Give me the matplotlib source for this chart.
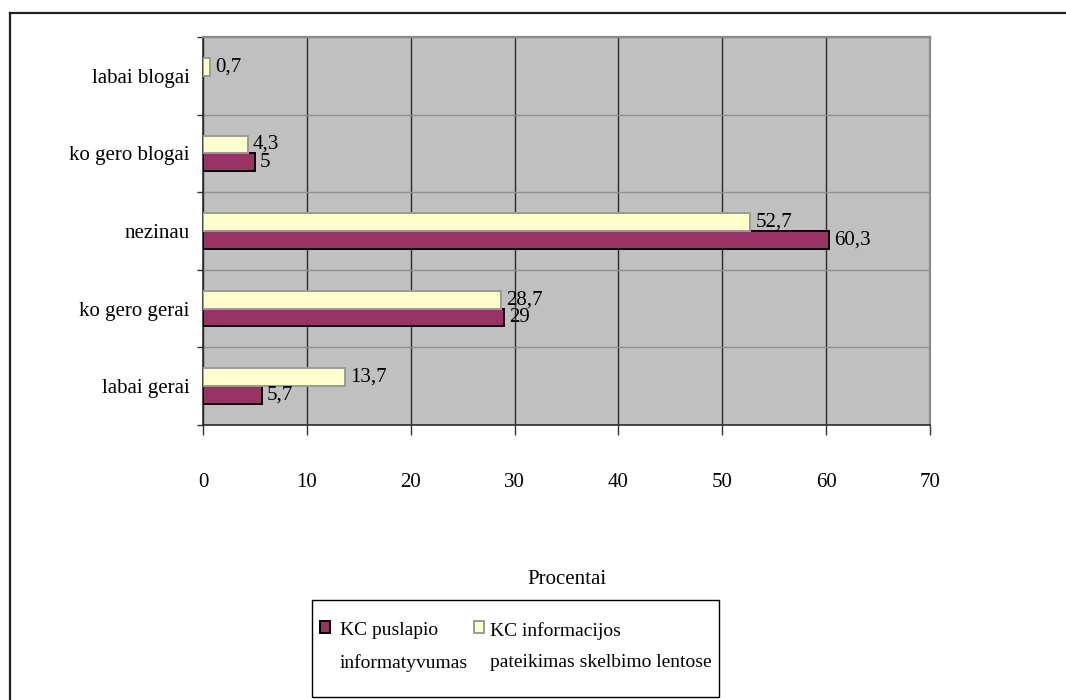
import matplotlib
matplotlib.use("Agg")
import matplotlib.pyplot as plt
from matplotlib.patches import Rectangle
from matplotlib.lines import Line2D
import numpy as np

# Survey answers (bottom to top) and percentages per series
categories = ["labai gerai", "ko gero gerai", "nezinau", "ko gero blogai", "labai blogai"]
puslapio = [5.7, 29, 60.3, 5, 0]
lentose = [13.7, 28.7, 52.7, 4.3, 0.7]
series_names = ["KC puslapio\ninformatyvumas", "KC informacijos\npateikimas skelbimo lentose"]
x_ticks = [0, 10, 20, 30, 40, 50, 60, 70]
x_label = "Procentai"

MAROON = "#993366"
CREAM = "#FFFFCC"
FONT = "Liberation Serif"
FS = 15

plt.rcParams["font.family"] = [FONT, "DejaVu Serif"]

W, H = 1066, 700
fig = plt.figure(figsize=(W / 100, H / 100), dpi=100, facecolor="white")


def fx(px):
    return px / W


def fy(py):
    return 1 - py / H


# Plot area in pixel terms
left, right, top, bottom = 203, 930, 37, 425
ax = fig.add_axes([fx(left), fy(bottom), fx(right - left), (bottom - top) / H])
ax.set_facecolor("#C0C0C0")

y = np.arange(len(categories))
h = 0.23
b1 = ax.barh(y - h / 2, puslapio, height=h, color=MAROON,
             edgecolor=["black" if v > 0 else "none" for v in puslapio],
             linewidth=1.4, zorder=3)
b2 = ax.barh(y + h / 2, lentose, height=h, color=CREAM,
             edgecolor=["#9a9a9a" if v > 0 else "none" for v in lentose],
             linewidth=1.4, zorder=3)


def fmt(v):
    return f"{v:g}".replace(".", ",")


ax.bar_label(b1, labels=[fmt(v) if v > 0 else "" for v in puslapio],
             padding=3.5, fontsize=FS, fontfamily=FONT)
ax.bar_label(b2, labels=[fmt(v) if v > 0 else "" for v in lentose],
             padding=3.5, fontsize=FS, fontfamily=FONT)

ax.set_xlim(0, 70)
ax.set_ylim(-0.5, len(categories) - 0.5)
ax.set_xticks(x_ticks)
ax.set_xticklabels([str(t) for t in x_ticks], fontsize=FS, fontfamily=FONT)
ax.set_yticks(y)
ax.set_yticklabels(categories, fontsize=FS, fontfamily=FONT)
ax.set_yticks(np.arange(-0.5, len(categories), 1.0), minor=True)

ax.tick_params(axis="y", which="major", length=0, pad=9.5)
ax.tick_params(axis="y", which="minor", length=4.5, width=1, color="#333333",
               direction="out")
ax.tick_params(axis="x", which="major", length=7.5, width=1, color="#333333",
               direction="out", pad=27)

ax.set_axisbelow(True)
ax.grid(axis="x", which="major", color="#2a2a2a", linewidth=1.0, zorder=0)
ax.grid(axis="y", which="minor", color="#909090", linewidth=1.0, zorder=0)

for side in ("left", "bottom"):
    ax.spines[side].set_color("#2a2a2a")
    ax.spines[side].set_linewidth(1.2)
for side in ("top", "right"):
    ax.spines[side].set_color("#8a8a8a")
    ax.spines[side].set_linewidth(1.6)

ax.set_xlabel(x_label, fontsize=FS, fontfamily=FONT)
ax.xaxis.set_label_coords(0.5, -(580 - bottom) / (bottom - top))
ax.xaxis.label.set_va("center")

# Chart frame (left and top edges)
fig.add_artist(Line2D([fx(10), fx(10)], [fy(12.5), 0], color="#222222",
                      linewidth=1.6, transform=fig.transFigure))
fig.add_artist(Line2D([fx(10), 1], [fy(12.5), fy(12.5)], color="#222222",
                      linewidth=1.6, transform=fig.transFigure))

# Legend box
lx0, lx1, ly0, ly1 = 312, 719, 600, 697
fig.add_artist(Rectangle((fx(lx0), fy(ly1)), fx(lx1 - lx0), (ly1 - ly0) / H,
                         facecolor="white", edgecolor="black", linewidth=1.0,
                         transform=fig.transFigure))
entries = [
    (320, 340, MAROON, "black", series_names[0]),
    (474, 490, CREAM, "#9a9a9a", series_names[1]),
]
for mx, tx, fc, ec, label in entries:
    fig.add_artist(Rectangle((fx(mx), fy(633)), fx(10), 12 / H,
                             facecolor=fc, edgecolor=ec, linewidth=1.4,
                             transform=fig.transFigure))
    fig.text(fx(tx), fy(622), label, fontsize=14, fontfamily=FONT,
             ha="left", va="top", linespacing=2.1)

fig.savefig("out.png", dpi=100, facecolor="white")
